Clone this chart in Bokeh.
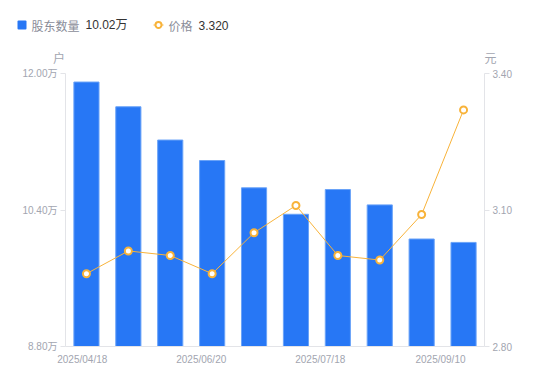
from bokeh.plotting import figure
from bokeh.models import (Range1d, LinearAxis, FixedTicker, CustomJSTickFormatter,
                          Label, BoxAnnotation, ColumnDataSource)
from bokeh.embed import file_html
from bokeh.resources import INLINE

# ---- data ----
holders = [11.90, 11.61, 11.22, 10.98, 10.66, 10.35, 10.64, 10.46, 10.06, 10.02]  # 万户
price = [2.96, 3.01, 3.00, 2.96, 3.05, 3.11, 3.00, 2.99, 3.09, 3.32]
x_idx = list(range(len(holders)))
tick_pos = [-0.1, 2.74, 5.58, 8.45]
tick_labels = ["2025/04/18", "2025/06/20", "2025/07/18", "2025/09/10"]
left_ticks = [8.80, 10.40, 12.00]
right_ticks = [2.80, 3.10, 3.40]
legend_bar_name = "股东数量"
legend_bar_value = "10.02万"
legend_line_name = "价格"
legend_line_value = "3.320"
left_unit = "户"
right_unit = "元"

# ---- layout / style ----
BLUE = "#2777f5"
ORANGE = "#f8b33a"
GREY = "#a2a5b0"
AXIS = "#e3e4e8"
FONT = "Liberation Sans, Noto Sans CJK SC"
CJK = "Noto Sans CJK SC"

W, H = 542, 373
PL, PR, PT, PB = 65, 484, 73, 346          # data area in canvas pixels
YL = (left_ticks[0], left_ticks[-1])
YR = (right_ticks[0], right_ticks[-1])
n = len(holders)
xs = (PR - PL) / n
ysl = (PB - PT) / (YL[1] - YL[0])
ysr = (PB - PT) / (YR[1] - YR[0])

src = ColumnDataSource(dict(x=x_idx, h=holders, p=price))

p = figure(width=W, height=H, output_backend="svg", toolbar_location=None,
           x_range=Range1d(-0.5 - PL / xs, n - 0.5 + (W - PR) / xs),
           y_range=Range1d(YL[0] - (H - PB) / ysl, YL[1] + PT / ysl),
           min_border=0, x_axis_location=None, y_axis_location=None)
p.title.visible = False
p.outline_line_color = None
p.grid.visible = False
p.extra_y_ranges = {"price": Range1d(YR[0] - (H - PB) / ysr, YR[1] + PT / ysr)}

p.vbar(x="x", top="h", bottom=YL[0], width=0.6, source=src,
       fill_color=BLUE, line_color="#6aa3f8", line_width=1)
p.line(x="x", y="p", source=src, y_range_name="price", line_color=ORANGE, line_width=1)
p.scatter(x="x", y="p", source=src, y_range_name="price", size=7,
          fill_color="white", line_color=ORANGE, line_width=2)

def style(ax, size="10px"):
    ax.axis_line_color = AXIS
    ax.major_tick_line_color = AXIS
    ax.minor_tick_line_color = None
    ax.major_label_text_color = GREY
    ax.major_label_text_font = FONT
    ax.major_label_text_font_size = size

xa = LinearAxis(ticker=FixedTicker(ticks=tick_pos), fixed_location=YL[0], bounds=(-0.5, n - 0.5),
                formatter=CustomJSTickFormatter(args=dict(pos=tick_pos, lab=tick_labels), code="""
let best = 0; for (let i = 0; i < pos.length; i++) { if (Math.abs(pos[i]-tick) < Math.abs(pos[best]-tick)) best = i; }
return lab[best];"""))
style(xa)
xa.major_tick_line_color = None
xa.major_tick_out = 0
xa.major_tick_in = 0
xa.major_label_standoff = 7
p.add_layout(xa, "below")

ya = LinearAxis(ticker=FixedTicker(ticks=left_ticks), fixed_location=-0.5, bounds=YL,
                formatter=CustomJSTickFormatter(code="return tick.toFixed(2) + '万';"))
style(ya)
ya.major_tick_in = 0
ya.major_tick_out = 5
ya.major_label_standoff = 3
p.add_layout(ya, "left")

yb = LinearAxis(y_range_name="price", ticker=FixedTicker(ticks=right_ticks),
                fixed_location=n - 0.5, bounds=YR,
                formatter=CustomJSTickFormatter(code="return tick.toFixed(2);"))
style(yb)
yb.major_tick_in = 0
yb.major_tick_out = 5
yb.major_label_standoff = 3
p.add_layout(yb, "right")

# screen units: x from canvas left, y up from canvas bottom
def lab(x, y, t, font, color, align="left"):
    p.add_layout(Label(x=x, y=y, x_units="screen", y_units="screen", text=t,
                       text_font=font, text_font_size="12px", text_color=color,
                       text_align=align, text_baseline="middle"))

def box(l, r, b, t, **kw):
    p.add_layout(BoxAnnotation(left=l, right=r, bottom=b, top=t,
                               left_units="screen", right_units="screen",
                               top_units="screen", bottom_units="screen", **kw))

lab(58.5, H - 57, left_unit, CJK, GREY, "center")
lab(490, H - 57, right_unit, CJK, GREY, "center")

ly = H - 24.5
box(17, 26, ly - 4.5, ly + 4.5, fill_color=BLUE, fill_alpha=1, line_color=None, border_radius=1)
lab(31, ly, legend_bar_name, CJK, "#8a8d99")
lab(85, ly, legend_bar_value, FONT, "#333333")
box(153, 163, ly - 0.5, ly + 0.5, fill_color=ORANGE, fill_alpha=1, line_color=None)
box(155, 161, ly - 3, ly + 3, fill_color="white", fill_alpha=1, line_color=ORANGE,
    line_alpha=1, line_width=2, border_radius=3)
lab(168, ly, legend_line_name, CJK, "#8a8d99")
lab(198, ly, legend_line_value, FONT, "#333333")

open("out.html", "w").write(file_html(p, INLINE))
